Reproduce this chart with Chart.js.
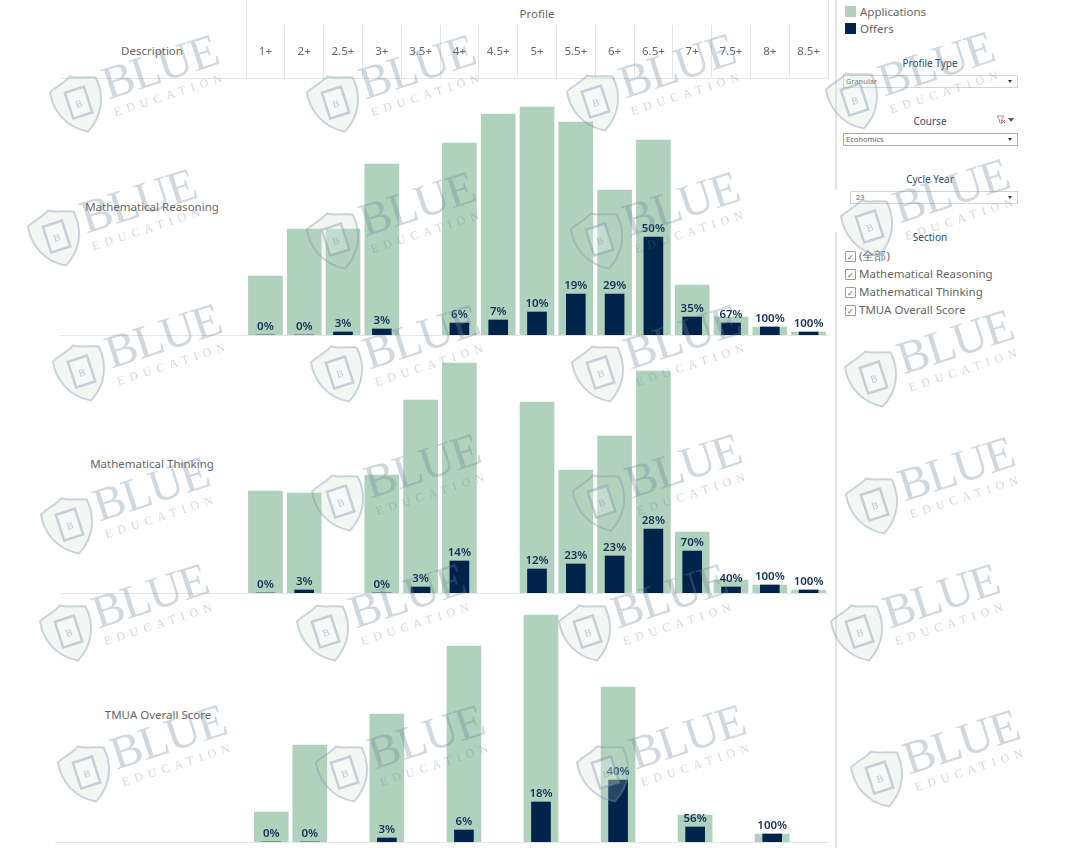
<!DOCTYPE html>
<html>
<head>
<meta charset="utf-8">
<title>Applications and offers by profile</title>
<script src="https://cdn.jsdelivr.net/npm/chart.js@4"></script>
<style>
  html, body { margin: 0; background: #fff; }
  body { width: 1080px; height: 848px; position: relative; overflow: hidden; font-family: "Noto Sans", sans-serif; color: #666; }
  canvas { position: absolute; }
  .abs { position: absolute; white-space: nowrap; }
  .line { position: absolute; background: #e6e6e6; }
  .rowlabel { position: absolute; width: 200px; text-align: center; font-size: 11.5px; line-height: 16px; }
  .ftitle { position: absolute; left: 843px; width: 174px; text-align: center; font-size: 10px; line-height: 14px; color: #2f4a6d; }
  .select { position: absolute; left: 843px; width: 173px; height: 11px; border: 1px solid #d4d4d4; font-size: 7.5px; line-height: 11px; color: #666; text-indent: 2px; }
  .select::after { content: ""; position: absolute; right: 5px; top: 4px; border: 2.5px solid transparent; border-top: 3.5px solid #333; }
  .check { position: absolute; left: 845px; font-size: 11.5px; line-height: 16px; padding-left: 14px; color: #666; white-space: nowrap; }
  .check::before { content: "\2713"; position: absolute; left: 0; top: 3px; width: 9px; height: 9px; border: 1px solid #999; border-radius: 1px; font-size: 8px; line-height: 9px; text-align: center; color: #555; }
  #marks { position: absolute; left: 0; top: 0; pointer-events: none; }
</style>
</head>
<body>

<div class="line" style="left:246px;top:0;width:1px;height:78px"></div>
<div class="line" style="left:828px;top:0;width:1px;height:78px"></div>
<div class="line" style="left:60px;top:78px;width:769px;height:1px"></div>
<div class="line" style="left:60px;top:335px;width:769px;height:1px"></div>
<div class="line" style="left:60px;top:593px;width:769px;height:1px"></div>
<div class="line" style="left:55px;top:842px;width:774px;height:1px"></div>
<div class="line" style="left:835px;top:0;width:2px;height:190px"></div>
<div class="line" style="left:835px;top:232px;width:2px;height:616px"></div>

<div class="abs" style="left:437px;top:6px;width:200px;text-align:center;font-size:11.5px">Profile</div>
<div class="rowlabel" style="left:52px;top:43px">Description</div>
<div class="rowlabel" style="left:52px;top:199px">Mathematical Reasoning</div>
<div class="rowlabel" style="left:52px;top:456px">Mathematical Thinking</div>
<div class="rowlabel" style="left:58px;top:707px">TMUA Overall Score</div>

<canvas id="panel1" width="582" height="335" style="left:246px;top:0"></canvas>
<canvas id="panel2" width="582" height="260" style="left:246px;top:333px"></canvas>
<canvas id="panel3" width="578" height="260" style="left:252px;top:582px"></canvas>

<div class="abs" style="left:845px;top:6px;width:11px;height:11px;background:#b0d1bc"></div>
<div class="abs" style="left:860px;top:4px;font-size:11.5px;line-height:16px">Applications</div>
<div class="abs" style="left:845px;top:23px;width:11px;height:11px;background:#00234b"></div>
<div class="abs" style="left:860px;top:21px;font-size:11.5px;line-height:16px">Offers</div>

<div class="ftitle" style="top:56px">Profile Type</div>
<div class="select" style="top:75px">Granular</div>
<div class="ftitle" style="top:114px">Course</div>
<svg class="abs" style="left:996px;top:115px" width="22" height="10">
  <path d="M1 1h7L5.5 5v3.5L3.5 7.5V5z" fill="none" stroke="#999" stroke-width="1"/>
  <path d="M6 5l3 3M9 5l-3 3" stroke="#d9534f" stroke-width="1"/>
  <path d="M12 3h6l-3 4z" fill="#555"/>
</svg>
<div class="select" style="top:133px;border:1px solid #aaa">Economics</div>
<div class="ftitle" style="top:172px">Cycle Year</div>
<div class="select" style="top:191px;left:850px;width:166px;text-indent:5px">23</div>
<div class="ftitle" style="top:230px">Section</div>
<div class="check" style="top:248px">(全部)</div>
<div class="check" style="top:266px">Mathematical Reasoning</div>
<div class="check" style="top:284px">Mathematical Thinking</div>
<div class="check" style="top:302px">TMUA Overall Score</div>

<svg id="marks" width="1080" height="848"></svg>

<script>
const profiles = ['1+', '2+', '2.5+', '3+', '3.5+', '4+', '4.5+', '5+', '5.5+', '6+', '6.5+', '7+', '7.5+', '8+', '8.5+'];

// no value axis in the picture, so these are bar heights read off it
const reasoningApps = [59, 106, 106, 171, null, 192, 221, 228, 213, 145, 195, 50, 18, 8, 3];
const reasoningOffers = [0, 0, 3, 6, null, 12, 15, 23, 41, 41, 98, 18, 12, 8, 3];
const reasoningRates = ['0%', '0%', '3%', '3%', null, '6%', '7%', '10%', '19%', '29%', '50%', '35%', '67%', '100%', '100%'];

const thinkingApps = [102, 100, null, 118, 193, 230, null, 191, 123, 157, 222, 61, 13, 8, 3];
const thinkingOffers = [0, 3, null, 0, 6, 32, null, 24, 29, 37, 64, 42, 6, 8, 3];
const thinkingRates = ['0%', '3%', null, '0%', '3%', '14%', null, '12%', '23%', '23%', '28%', '70%', '40%', '100%', '100%'];

const overallApps = [30, 97, null, 128, null, 196, null, 227, null, 155, null, 27, null, 8, null];
const overallOffers = [0, 0, null, 4, null, 12, null, 40, null, 62, null, 15, null, 8, null];
const overallRates = ['0%', '0%', null, '3%', null, '6%', null, '18%', null, '40%', null, '56%', null, '100%', null];

const appsColor = '#b0d1bc';
const offersColor = '#00234b';

// rate labels sit on top of the offers bars
const rateLabels = {
  id: 'rateLabels',
  afterDatasetsDraw(chart, args, opts) {
    const ctx = chart.ctx;
    const bars = chart.getDatasetMeta(0).data;
    ctx.save();
    ctx.font = '600 11.5px "Noto Sans"';
    ctx.fillStyle = '#14305a';
    ctx.textAlign = 'center';
    ctx.textBaseline = 'bottom';
    bars.forEach((bar, i) => {
      if (opts.rates[i]) ctx.fillText(opts.rates[i], bar.x, bar.y - 3);
    });
    ctx.restore();
  }
};

function drawPanel(id, apps, offers, rates, yMax, withHeader) {
  const xAxis = { display: false };
  if (withHeader) {
    // the header row of the table is the x axis of the top panel
    xAxis.display = true;
    xAxis.position = 'top';
    xAxis.afterFit = (scale) => { scale.height = 78; };
    xAxis.border = { display: false };
    xAxis.grid = { drawOnChartArea: false, tickLength: 53, color: '#e6e6e6' };
    xAxis.ticks = { padding: -34, maxRotation: 0, autoSkip: false, color: '#666', font: { family: '"Noto Sans"', size: 11.5 } };
  }
  new Chart(document.getElementById(id), {
    type: 'bar',
    data: {
      labels: profiles,
      datasets: [
        { label: 'Offers', data: offers, backgroundColor: offersColor, barThickness: 19, order: 1 },
        { label: 'Applications', data: apps, backgroundColor: appsColor, barThickness: 34, order: 2 }
      ]
    },
    options: {
      responsive: false,
      animation: false,
      grouped: false,
      layout: { padding: 0 },
      plugins: {
        legend: { display: false },
        tooltip: { enabled: false },
        rateLabels: { rates: rates }
      },
      scales: {
        x: xAxis,
        y: { display: false, min: 0, max: yMax }
      }
    },
    plugins: [rateLabels]
  });
}

drawPanel('panel1', reasoningApps, reasoningOffers, reasoningRates, 257, true);
drawPanel('panel2', thinkingApps, thinkingOffers, thinkingRates, 260, false);
drawPanel('panel3', overallApps, overallOffers, overallRates, 260, false);

// watermark, shield centre of each stamp
const stampSpots = [
  [79, 104], [336, 104], [596, 103], [855, 101],
  [57, 238], [336, 241], [600, 241], [870, 228],
  [82, 373], [340, 374], [601, 374], [874, 379],
  [70, 526], [341, 503], [602, 503], [875, 506],
  [69, 633], [326, 633], [588, 633], [860, 633],
  [87, 774], [345, 774], [606, 774], [880, 779]
];
const marks = document.getElementById('marks');
marks.innerHTML = stampSpots.map(([x, y]) => `
  <g transform="translate(${x} ${y}) rotate(-18)" font-family="Liberation Serif">
    <path d="M0 -29 C8 -24 16 -24 24 -20 C27 -2 20 18 0 29 C-20 18 -27 -2 -24 -20 C-16 -24 -8 -24 0 -29z" fill="rgba(190,215,200,.2)" stroke="rgba(125,145,170,.38)" stroke-width="2"/>
    <rect x="-10" y="-15" width="20" height="27" fill="rgba(255,255,255,.22)" stroke="rgba(125,145,170,.4)" stroke-width="2.5"/>
    <text x="0" y="3" text-anchor="middle" font-size="10" fill="rgba(125,145,170,.5)">B</text>
    <text x="29" y="5" font-size="47" letter-spacing="-1" fill="rgba(105,130,155,.32)">BLUE</text>
    <text x="31" y="23" font-size="12" letter-spacing="5.5" fill="rgba(105,130,155,.32)">EDUCATION</text>
  </g>`).join('');
</script>
</body>
</html>
